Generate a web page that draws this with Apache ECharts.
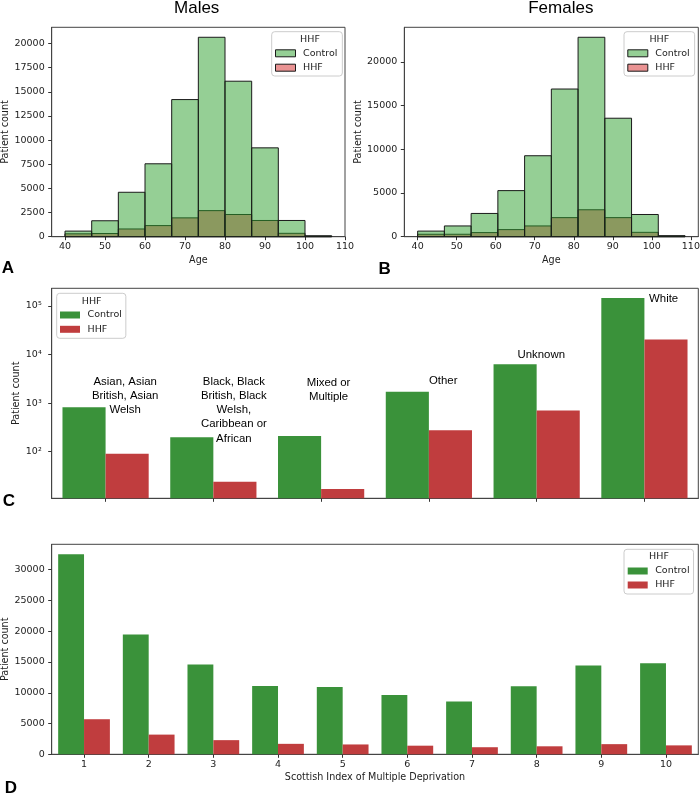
<!DOCTYPE html>
<html><head><meta charset="utf-8">
<script src="https://cdn.jsdelivr.net/npm/echarts@6/dist/echarts.min.js"></script>
<style>html,body{margin:0;padding:0;background:#fff}#c{width:700px;height:794px}</style>
</head><body><div id="c"></div>
<script>
// ---------- data ----------
const maleEdges = [40, 46.67, 53.33, 60, 66.67, 73.33, 80, 86.67, 93.33, 100, 106.67];
const maleControl = [580, 1650, 4600, 7550, 14200, 20650, 16100, 9200, 1680, 100];
const maleHHF = [300, 330, 800, 1150, 1950, 2700, 2300, 1680, 350, 30];
const femaleEdges = [40, 46.85, 53.7, 60.55, 67.4, 74.25, 81.1, 87.95, 94.8, 101.65, 108.5];
const femaleControl = [640, 1230, 2660, 5270, 9260, 16890, 22810, 13550, 2540, 120];
const femaleHHF = [280, 280, 470, 810, 1230, 2180, 3080, 2180, 500, 40];
const ageTicks = [40, 50, 60, 70, 80, 90, 100, 110];
const maleYTicks = [0, 2500, 5000, 7500, 10000, 12500, 15000, 17500, 20000];
const femaleYTicks = [0, 5000, 10000, 15000, 20000];

const ethCategories = ['Asian, Asian British, Asian Welsh', 'Black, Black British, Black Welsh, Caribbean or African', 'Mixed or Multiple', 'Other', 'Unknown', 'White'];
const ethLabels = ['Asian, Asian\nBritish, Asian\nWelsh', 'Black, Black\nBritish, Black\nWelsh,\nCaribbean or\nAfrican', 'Mixed or\nMultiple', 'Other', 'Unknown', 'White'];
const ethControl = [820, 198, 211, 1720, 6280, 146000];
const ethHHF = [91, 24, 17, 276, 707, 20400];
const logTicks = [100, 1000, 10000, 100000];

const simdCategories = ['1', '2', '3', '4', '5', '6', '7', '8', '9', '10'];
const simdControl = [32500, 19450, 14600, 11100, 10950, 9650, 8600, 11050, 14450, 14800];
const simdHHF = [5700, 3200, 2300, 1700, 1600, 1400, 1150, 1300, 1650, 1450];
const simdYTicks = [0, 5000, 10000, 15000, 20000, 25000, 30000];

// ---------- style ----------
const FONT = 'DejaVu Sans', SANS = 'Liberation Sans';
const GREEN = '#3a923a', RED = '#c03d3e';
const HG = 'rgba(44,160,44,0.5)', HR = 'rgba(214,39,40,0.5)';
const EDGE = '#1a1a1a', SPINE = '#444', TXT = '#222';

function histSeries(name, gi, edges, counts, fill) {
  return {
    type: 'custom', name: name, xAxisIndex: gi, yAxisIndex: gi,
    encode: {x: [0, 1], y: 2},
    data: counts.map((c, i) => [edges[i], edges[i + 1], c]),
    renderItem: function (params, api) {
      const a = api.coord([api.value(0), api.value(2)]);
      const b = api.coord([api.value(1), 0]);
      return {type: 'rect', shape: {x: a[0], y: a[1], width: b[0] - a[0], height: b[1] - a[1]},
        style: {fill: fill, stroke: EDGE, lineWidth: 1}};
    }
  };
}
function gridBox(left, top, width, height) {
  return {left, top, width, height, show: true, borderColor: SPINE, borderWidth: 1,
    backgroundColor: 'transparent', containLabel: false, outerBoundsMode: 'none'};
}
const lbl = (extra) => Object.assign({fontFamily: FONT, fontSize: 9.5, color: TXT}, extra || {});
const plain = v => String(Math.round(v));
function valueAxis(gi, min, max, ticks, name, nameGap, margin) {
  return {
    type: 'value', gridIndex: gi, min, max, name, nameLocation: 'middle', nameGap,
    nameMoveOverlap: false,
    nameTextStyle: lbl({fontSize: 9.6}),
    axisLine: {show: true, onZero: false, lineStyle: {color: SPINE, width: 1}},
    axisTick: {show: true, length: 3.5, customValues: ticks, lineStyle: {color: '#333'}},
    axisLabel: lbl({customValues: ticks, margin: margin, formatter: plain, showMinLabel: true, showMaxLabel: true}),
    splitLine: {show: false}
  };
}
function legend(left, top, pad, gap, hist) {
  const ctl = hist ? {color: HG, borderColor: EDGE, borderWidth: 1} : {color: GREEN, borderWidth: 0};
  const hhf = hist ? {color: HR, borderColor: EDGE, borderWidth: 1} : {color: RED, borderWidth: 0};
  return {
    left, top, orient: 'vertical', padding: pad, itemGap: gap, itemWidth: 20, itemHeight: 7,
    icon: 'rect', selectedMode: false,
    borderColor: '#cccccc', borderWidth: 1, borderRadius: 3, backgroundColor: 'rgba(255,255,255,0.8)',
    textStyle: {fontFamily: FONT, fontSize: 9.5, color: TXT, lineHeight: 12, padding: [0, 0, 0, 2.5]},
    data: [{name: 'Control', itemStyle: ctl}, {name: 'HHF', itemStyle: hhf}]
  };
}
const supMap = {2: '²', 3: '³', 4: '⁴', 5: '⁵'};

const option = {
  animation: false,
  backgroundColor: '#fff',
  grid: [
    gridBox(51.7, 27.3, 293.3, 209.4),
    gridBox(404.3, 27.3, 294, 209.4),
    gridBox(51.7, 288.3, 646.6, 210),
    gridBox(51.7, 544.3, 646.6, 210)
  ],
  xAxis: [
    valueAxis(0, 36.67, 110, ageTicks, 'Age', 18.5, 5),
    valueAxis(1, 36.58, 111.9, ageTicks, 'Age', 18.5, 5),
    {type: 'category', gridIndex: 2, data: ethCategories,
      axisLine: {show: true, lineStyle: {color: SPINE}},
      axisTick: {show: true, interval: 0, alignWithLabel: true, length: 3.5, lineStyle: {color: '#333'}},
      axisLabel: {show: false, interval: 0}, splitLine: {show: false}},
    {type: 'category', gridIndex: 3, data: simdCategories,
      name: 'Scottish Index of Multiple Deprivation', nameLocation: 'middle', nameGap: 18.5,
      nameMoveOverlap: false,
      nameTextStyle: lbl({fontSize: 9.6}),
      axisLine: {show: true, lineStyle: {color: SPINE}},
      axisTick: {show: true, interval: 0, alignWithLabel: true, length: 3.5, lineStyle: {color: '#333'}},
      axisLabel: lbl({margin: 5, interval: 0}), splitLine: {show: false}}
  ],
  yAxis: [
    valueAxis(0, 0, 21683, maleYTicks, 'Patient count', 41, 7),
    valueAxis(1, 0, 23950, femaleYTicks, 'Patient count', 41, 7),
    {type: 'log', logBase: 10, gridIndex: 2, min: 11, max: 231000, startValue: 11,
      name: 'Patient count', nameLocation: 'middle', nameGap: 30.5, nameMoveOverlap: false,
      nameTextStyle: lbl({fontSize: 9.6}),
      axisLine: {show: true, onZero: false, lineStyle: {color: SPINE}},
      axisTick: {show: true, length: 3.5, customValues: logTicks, lineStyle: {color: '#333'}},
      minorTick: {show: false},
      axisLabel: lbl({customValues: logTicks, margin: 10,
        formatter: v => '10' + supMap[Math.round(Math.log10(v))]}),
      splitLine: {show: false}},
    valueAxis(3, 0, 34125, simdYTicks, 'Patient count', 41, 7)
  ],
  legend: [
    legend(271.7, 31.7, [15.6, 5, 2.3, 3.3], 2.4, true),
    legend(624, 31.7, [15.6, 5, 2.3, 3.3], 2.4, true),
    legend(56.7, 293.3, [15.7, 4, 3, 3.3], 2.3, false),
    legend(624, 549.3, [15.7, 4, 3, 3.7], 2, false)
  ],
  series: [
    histSeries('HHF', 0, maleEdges, maleHHF, HR),
    histSeries('Control', 0, maleEdges, maleControl, HG),
    histSeries('HHF', 1, femaleEdges, femaleHHF, HR),
    histSeries('Control', 1, femaleEdges, femaleControl, HG),
    {type: 'bar', name: 'Control', xAxisIndex: 2, yAxisIndex: 2, data: ethControl,
      itemStyle: {color: GREEN}, barGap: '0%', barCategoryGap: '20%', clip: true},
    {type: 'bar', name: 'HHF', xAxisIndex: 2, yAxisIndex: 2, data: ethHHF,
      itemStyle: {color: RED}, barGap: '0%', barCategoryGap: '20%', clip: true},
    {type: 'bar', name: 'Control', xAxisIndex: 3, yAxisIndex: 3, data: simdControl,
      itemStyle: {color: GREEN}, barGap: '0%', barCategoryGap: '20%'},
    {type: 'bar', name: 'HHF', xAxisIndex: 3, yAxisIndex: 3, data: simdHHF,
      itemStyle: {color: RED}, barGap: '0%', barCategoryGap: '20%'}
  ]
};

const chart = echarts.init(document.getElementById('c'), null, {renderer: 'canvas', width: 700, height: 794});
chart.setOption(option);

// ---------- text annotations ----------
const annDx = [19.6, 20.5, 7.4, 14.3, 4.6, 19.2];
const annTop = [374.6, 374.6, 375.6, 373.6, 347.9, 292.2];
const g = [];
ethLabels.forEach((t, i) => {
  const x = chart.convertToPixel({xAxisIndex: 2}, i) + annDx[i];
  g.push({type: 'text', x: x, y: annTop[i], z: 50,
    style: {text: t, fontFamily: SANS, fontSize: 11.4, lineHeight: 14.2, fill: '#000', align: 'center', verticalAlign: 'top'}});
});
function txt(text, x, y, size, weight, family) {
  return {type: 'text', x, y, z: 100,
    style: {text, fontFamily: family || SANS, fontSize: size, fontWeight: weight || 'normal', fill: '#000', align: 'center', verticalAlign: 'middle'}};
}
g.push(txt('Males', 196.7, 8.5, 17));
g.push(txt('Females', 560.8, 8.5, 17));
g.push(txt('A', 8, 268.3, 17, 'bold'));
g.push(txt('B', 384.7, 269, 17, 'bold'));
g.push(txt('C', 9, 501, 17, 'bold'));
g.push(txt('D', 11, 788, 17, 'bold'));
[[310, 39.3], [659.3, 39.3], [91.7, 301.7], [659, 556.7]].forEach(p => {
  const t = txt('HHF', p[0], p[1], 9.5, 'normal', FONT);
  t.style.fill = TXT;
  g.push(t);
});
chart.setOption({graphic: g});
</script>
</body></html>
